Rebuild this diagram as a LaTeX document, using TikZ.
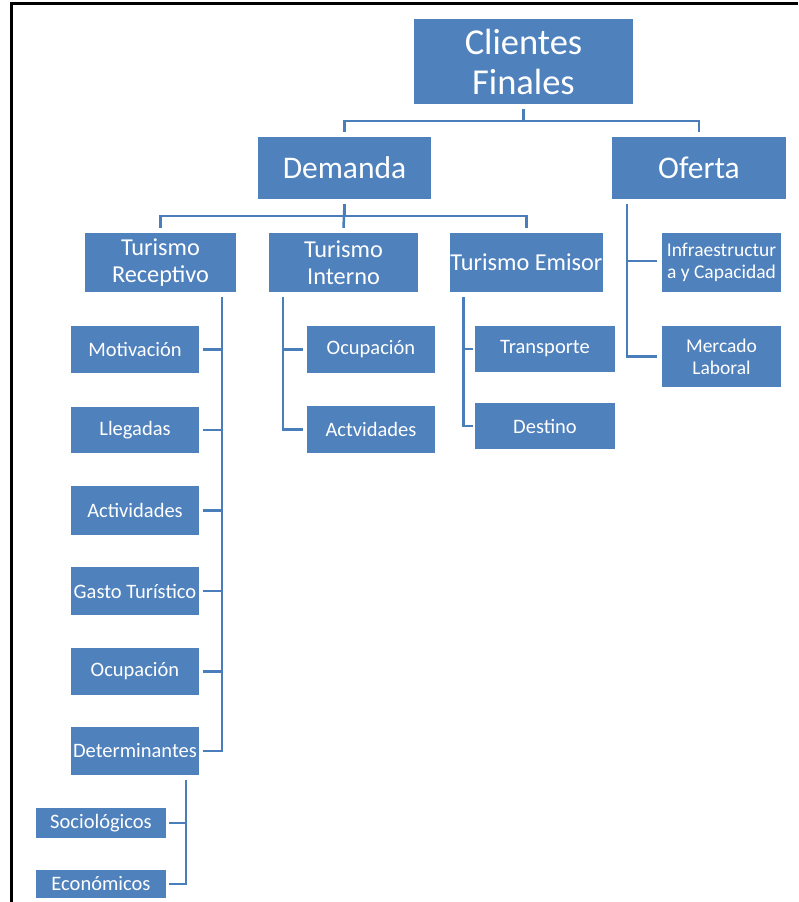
\documentclass[tikz,border=0pt]{standalone}
\usepackage{fontspec}
\setmainfont{Carlito}
\definecolor{boxblue}{HTML}{4F81BD}
\definecolor{lineblue}{HTML}{4A7EBB}

\begin{document}
\begin{tikzpicture}[x=1pt, y=-1pt,
  box/.style={rectangle, fill=boxblue, text=white, inner sep=0pt, align=center},
  bigbox/.style={box, font=\fontsize{36.5}{40}\selectfont},
  midbox/.style={box, font=\fontsize{31.5}{34}\selectfont},
  subbox/.style={box, font=\fontsize{24.3}{27}\selectfont},
  leafbox/.style={box, font=\fontsize{20.5}{22}\selectfont},
  infrabox/.style={box, font=\fontsize{19.5}{22}\selectfont},
  link/.style={draw=lineblue, line width=2.5pt}]
\useasboundingbox (0,0) rectangle (798,902);
\draw[line width=3pt] (11,902) -- (11,3) -- (798,3);

\node[bigbox, minimum width=219pt, minimum height=85pt] (clientes) at (523.5,61.5) {Clientes\\Finales};
\node[midbox, minimum width=173pt, minimum height=62pt] (demanda) at (344.5,168) {Demanda};
\node[midbox, minimum width=174pt, minimum height=62pt] (oferta) at (699,168) {Oferta};

\node[subbox, minimum width=151pt, minimum height=59pt] (receptivo) at (160.5,262.5) {Turismo\\Receptivo};
\node[subbox, minimum width=149pt, minimum height=59pt] (interno) at (343.5,262.5) {Turismo\\Interno};
\node[subbox, minimum width=151pt, minimum height=59pt] (emisor) at (526.5,262.5) {Turismo Emisor};
\node[infrabox, minimum width=119pt, minimum height=59pt] (infra) at (721.5,262.5) {Infraestructur\\a y Capacidad};
\node[infrabox, minimum width=119pt, minimum height=61pt] (mercado) at (721.5,356.5) {Mercado\\Laboral};

\node[leafbox, minimum width=128pt, minimum height=47pt] (motivacion) at (135,349.5) {Motivación};
\node[leafbox, minimum width=128pt, minimum height=46pt] (llegadas) at (135,430) {Llegadas};
\node[leafbox, minimum width=128pt, minimum height=49pt] (actividades) at (135,510.5) {Actividades};
\node[leafbox, minimum width=128pt, minimum height=48pt] (gasto) at (135,591) {Gasto Turístico};
\node[leafbox, minimum width=128pt, minimum height=47pt] (ocupacion) at (135,671.5) {Ocupación};
\node[leafbox, minimum width=128pt, minimum height=48pt] (determinantes) at (135,751) {Determinantes};
\node[leafbox, minimum width=130pt, minimum height=30pt] (sociologicos) at (101,823) {Sociológicos};
\node[leafbox, minimum width=130pt, minimum height=28pt] (economicos) at (101,884) {Económicos};

\node[leafbox, minimum width=128pt, minimum height=47pt] (ocupacionint) at (371,349.5) {Ocupación};
\node[leafbox, minimum width=128pt, minimum height=47pt] (actvidades) at (371,429.5) {Actvidades};
\node[leafbox, minimum width=140pt, minimum height=46pt] (transporte) at (545,349) {Transporte};
\node[leafbox, minimum width=140pt, minimum height=46pt] (destino) at (545,426) {Destino};

% nivel 1
\draw[link] ([yshift=-5pt]clientes.south) |- ([yshift=16pt]demanda.north) -- ([yshift=5pt]demanda.north);
\draw[link] ([yshift=-5pt]clientes.south) |- ([yshift=16pt]oferta.north) -- ([yshift=5pt]oferta.north);
% demanda
\draw[link] ([yshift=-5pt]demanda.south) |- ([yshift=17pt]receptivo.north) -- ([yshift=5pt]receptivo.north);
\draw[link] ([yshift=-5pt]demanda.south) -- ([yshift=5pt]interno.north);
\draw[link] ([yshift=-5pt]demanda.south) |- ([yshift=17pt]emisor.north) -- ([yshift=5pt]emisor.north);
% oferta
\draw[link] ([xshift=15pt,yshift=-5pt]oferta.south west) |- ([xshift=-5pt,yshift=1.5pt]infra.west);
\draw[link] ([xshift=15pt,yshift=-5pt]oferta.south west) |- ([xshift=-5pt]mercado.west);
% receptivo
\draw[link] ([xshift=-14pt,yshift=-5pt]receptivo.south east) |- ([xshift=4pt]motivacion.east);
\draw[link] ([xshift=-14pt,yshift=-5pt]receptivo.south east) |- ([xshift=4pt]llegadas.east);
\draw[link] ([xshift=-14pt,yshift=-5pt]receptivo.south east) |- ([xshift=4pt]actividades.east);
\draw[link] ([xshift=-14pt,yshift=-5pt]receptivo.south east) |- ([xshift=4pt]gasto.east);
\draw[link] ([xshift=-14pt,yshift=-5pt]receptivo.south east) |- ([xshift=4pt]ocupacion.east);
\draw[link] ([xshift=-14pt,yshift=-5pt]receptivo.south east) |- ([xshift=4pt]determinantes.east);
% determinantes
\draw[link] ([xshift=-13pt,yshift=-5pt]determinantes.south east) |- ([xshift=3pt]sociologicos.east);
\draw[link] ([xshift=-13pt,yshift=-5pt]determinantes.south east) |- ([xshift=3pt]economicos.east);
% interno
\draw[link] ([xshift=14pt,yshift=-5pt]interno.south west) |- ([xshift=-4pt]ocupacionint.west);
\draw[link] ([xshift=14pt,yshift=-5pt]interno.south west) |- ([xshift=-4pt]actvidades.west);
% emisor
\draw[link] ([xshift=13pt,yshift=-5pt]emisor.south west) |- ([xshift=-2pt]transporte.west);
\draw[link] ([xshift=13pt,yshift=-5pt]emisor.south west) |- ([xshift=-2pt]destino.west);
\end{tikzpicture}
\end{document}
